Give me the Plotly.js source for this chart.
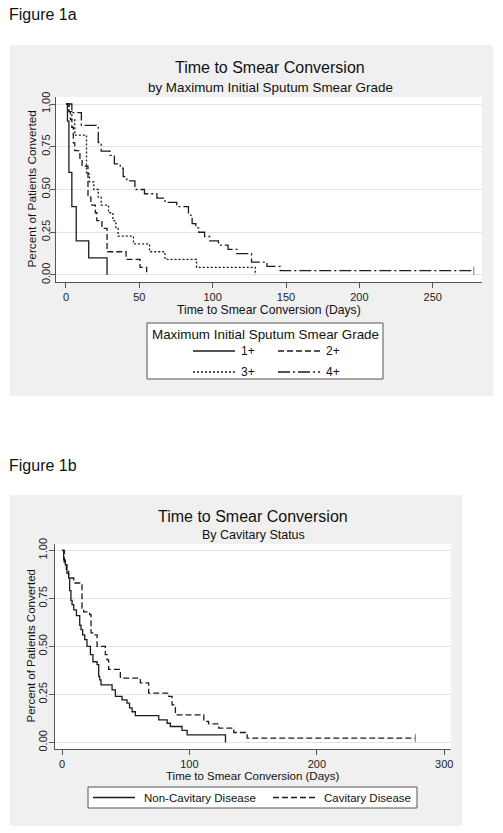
<!DOCTYPE html>
<html>
<head>
<meta charset="utf-8">
<script src="https://cdn.plot.ly/plotly-3.0.1.min.js"></script>
<style>html,body{margin:0;padding:0;background:#fff;}#chart{width:503px;height:833px;}</style>
</head>
<body>
<div id="chart"></div>
<script>
// ---------- Figure 1a: KM curves by max initial sputum smear grade ----------
const g1Days = [0, 1, 2, 4, 7, 15.5, 28];
const g1Surv = [1, 0.9, 0.6, 0.4, 0.2, 0.1, 0];

const g2Days = [0, 2, 3, 4, 5, 6, 9.5, 11, 15, 17, 20, 21, 24.5, 28, 41, 50.5, 55];
const g2Surv = [1, 0.955, 0.909, 0.864, 0.773, 0.727, 0.682, 0.636, 0.455, 0.409, 0.364, 0.318, 0.273, 0.136, 0.091, 0.045, 0];

const g3Days = [0, 2, 4, 6, 14, 16, 19, 22, 24, 29, 32, 34, 35.5, 46, 57, 67.5, 89, 129];
const g3Surv = [1, 0.955, 0.909, 0.818, 0.591, 0.545, 0.5, 0.455, 0.409, 0.364, 0.318, 0.273, 0.227, 0.182, 0.136, 0.091, 0.045, 0];

const g4Days = [0, 4, 10.5, 22, 24, 30, 33, 37, 39, 41.5, 47, 53.5, 62, 67.5, 75.5, 83.5, 86, 88.5, 90.5, 94.5, 98, 104, 110.5, 116.5, 126.5, 137, 146, 278];
const g4Surv = [1, 0.95, 0.875, 0.775, 0.725, 0.7, 0.65, 0.625, 0.575, 0.55, 0.5, 0.475, 0.45, 0.425, 0.4, 0.35, 0.3, 0.275, 0.25, 0.225, 0.2, 0.175, 0.15, 0.125, 0.075, 0.05, 0.025, 0.025];

const gradeNames = ['1+', '2+', '3+', '4+'];
const xTicksA = [0, 50, 100, 150, 200, 250];

// ---------- Figure 1b: KM curves by cavitary status ----------
const ncDays = [0, 1.3, 2.6, 3.9, 5.2, 6, 7, 7.9, 9.2, 11.3, 13.9, 14.9, 16.2, 17.8, 19.6, 22.3, 24.3, 27.5, 28.8, 29.6, 30.6, 39.3, 41.9, 47.1, 51, 53, 55, 57.6, 75.9, 82.5, 85, 94.2, 98.2, 128.3];
const ncSurv = [1, 0.95, 0.925, 0.88, 0.856, 0.79, 0.74, 0.717, 0.69, 0.66, 0.61, 0.587, 0.56, 0.535, 0.5, 0.457, 0.42, 0.405, 0.344, 0.326, 0.3, 0.274, 0.24, 0.222, 0.205, 0.18, 0.16, 0.14, 0.118, 0.1, 0.083, 0.0625, 0.04, 0];

const cavDays = [0, 1.8, 3.4, 5.2, 9.2, 15.7, 17, 21.7, 22.8, 24.9, 27.5, 34, 35.3, 36.6, 45.8, 61.5, 68, 83.8, 86.4, 89, 111.3, 115, 123, 134.8, 145.3, 277.3];
const cavSurv = [1, 0.93, 0.9, 0.856, 0.83, 0.7, 0.68, 0.665, 0.57, 0.56, 0.5, 0.457, 0.43, 0.38, 0.335, 0.31, 0.257, 0.24, 0.196, 0.144, 0.11, 0.097, 0.075, 0.052, 0.023, 0.023];

const cavNames = ['Non-Cavitary Disease', 'Cavitary Disease'];
const xTicksB = [0, 100, 200, 300];

const yTicks = [0, 0.25, 0.5, 0.75, 1];
const yTickText = ['0.00', '0.25', '0.50', '0.75', '1.00'];

// ---------- geometry helpers ----------
const W = 503, H = 833;
const px = x => x / W;
const py = y => 1 - y / H;
const FONT = 'Liberation Sans, Arial, sans-serif';
const INK = '#1c1c1c';
const LW = 1.3;

const dashes = ['solid', '6px,3px', '2px,2px', '12px,3px,2px,3px'];

function km(x, y, dash, xa, ya) {
  return {type: 'scatter', mode: 'lines', x: x, y: y, xaxis: xa, yaxis: ya,
    line: {shape: 'hv', color: INK, width: LW, dash: dash}, hoverinfo: 'skip', showlegend: false};
}
function censor(x, y, xa, ya) {
  return {type: 'scatter', mode: 'markers', x: [x[x.length - 1]], y: [y[y.length - 1]], xaxis: xa, yaxis: ya,
    marker: {symbol: 'line-ns-open', size: 6, line: {color: INK, width: 1}}, hoverinfo: 'skip', showlegend: false};
}

const data = [
  km(g1Days, g1Surv, dashes[0], 'x', 'y'),
  km(g2Days, g2Surv, dashes[1], 'x', 'y'),
  km(g3Days, g3Surv, dashes[2], 'x', 'y'),
  km(g4Days, g4Surv, dashes[3], 'x', 'y'),
  censor(g4Days, g4Surv, 'x', 'y'),
  km(ncDays, ncSurv, dashes[0], 'x2', 'y2'),
  km(cavDays, cavSurv, dashes[1], 'x2', 'y2'),
  censor(cavDays, cavSurv, 'x2', 'y2')
];

const axisCommon = {
  ticks: 'outside', ticklen: 5, tickwidth: 1, tickcolor: '#555',
  showline: true, linecolor: '#555', linewidth: 1, zeroline: false,
  tickfont: {family: FONT, size: 11, color: '#222'}, fixedrange: true
};

// plot areas (pixels)
const A = {l: 56, r: 482, t: 97, b: 282};
const B = {l: 55, r: 451, t: 544, b: 749};

const layout = {
  width: W, height: H,
  margin: {l: 0, r: 0, t: 0, b: 0},
  paper_bgcolor: '#ffffff', plot_bgcolor: 'rgba(0,0,0,0)',
  showlegend: false,
  font: {family: FONT, color: '#111'},
  xaxis: Object.assign({}, axisCommon, {domain: [px(A.l), px(A.r)], anchor: 'y', range: [-6.8, 283.6],
    tickvals: xTicksA, ticktext: xTicksA.map(String), showgrid: false}),
  yaxis: Object.assign({}, axisCommon, {domain: [py(A.b), py(A.t)], anchor: 'x', range: [-0.041, 1.041],
    tickvals: yTicks, ticktext: yTickText, tickangle: -90, ticklabelstandoff: -4,
    showgrid: true, gridcolor: '#e4e4e4', gridwidth: 1}),
  xaxis2: Object.assign({}, axisCommon, {domain: [px(B.l), px(B.r)], anchor: 'y2', range: [-5.5, 305.3],
    tickvals: xTicksB, ticktext: xTicksB.map(String), showgrid: false}),
  yaxis2: Object.assign({}, axisCommon, {domain: [py(B.b), py(B.t)], anchor: 'x2', range: [-0.034, 1.033],
    tickvals: yTicks, ticktext: yTickText, tickangle: -90, ticklabelstandoff: -2,
    showgrid: true, gridcolor: '#e4e4e4', gridwidth: 1}),
  shapes: [],
  annotations: []
};

function rect(x0, y0, x1, y1, fill, lineColor) {
  layout.shapes.push({type: 'rect', xref: 'paper', yref: 'paper', layer: 'below',
    x0: px(x0), x1: px(x1), y0: py(y1), y1: py(y0), fillcolor: fill,
    line: {width: lineColor ? 1 : 0, color: lineColor || fill}});
}
function seg(x0, x1, y, dash) {
  layout.shapes.push({type: 'line', xref: 'paper', yref: 'paper', layer: 'above',
    x0: px(x0), x1: px(x1), y0: py(y), y1: py(y), line: {color: INK, width: LW, dash: dash}});
}
function txt(x, y, text, size, anchor, angle) {
  layout.annotations.push({xref: 'paper', yref: 'paper', x: px(x), y: py(y), text: text, showarrow: false,
    xanchor: anchor || 'center', yanchor: 'middle', textangle: angle || 0, borderpad: 0,
    font: {family: FONT, size: size, color: '#111'}});
}

// panel backgrounds
rect(10, 45, 493, 396, '#f0f0f0');
rect(A.l, A.t, A.r, A.b, '#ffffff');
rect(10, 495, 462, 826, '#f0f0f0');
rect(B.l, B.t, B.r, B.b, '#ffffff');

// Figure 1a texts
txt(8, 15, 'Figure 1a', 16, 'left');
txt(270, 68, 'Time to Smear Conversion', 16);
txt(270, 87.5, 'by Maximum Initial Sputum Smear Grade', 13.4);
txt(269, 310, 'Time to Smear Conversion (Days)', 12.2);
txt(31, (A.t + A.b) / 2, 'Percent of Patients Converted', 11.8, 'center', -90);

// legend 1a
layout.shapes.push({type: 'rect', xref: 'paper', yref: 'paper', layer: 'above',
  x0: px(147), x1: px(383), y0: py(379), y1: py(323), fillcolor: '#ffffff', line: {color: '#555', width: 1}});
txt(265, 334, 'Maximum Initial Sputum Smear Grade', 13.4);
const legRows = [351, 351, 372, 372];
const legX = [193, 278, 193, 278];
gradeNames.forEach((n, i) => {
  seg(legX[i], legX[i] + 42, legRows[i], dashes[i]);
  txt(legX[i] + 47, legRows[i], n, 12, 'left');
});

// Figure 1b texts
txt(8, 465, 'Figure 1b', 16, 'left');
txt(253, 516.7, 'Time to Smear Conversion', 16);
txt(253, 535, 'By Cavitary Status', 12.5);
txt(253, 775.5, 'Time to Smear Conversion (Days)', 11.5);
txt(30, (B.t + B.b) / 2, 'Percent of Patients Converted', 11.5, 'center', -90);

// legend 1b
layout.shapes.push({type: 'rect', xref: 'paper', yref: 'paper', layer: 'above',
  x0: px(88), x1: px(417), y0: py(808), y1: py(787), fillcolor: '#ffffff', line: {color: '#555', width: 1}});
const legBX = [93, 273];
cavNames.forEach((n, i) => {
  seg(legBX[i], legBX[i] + 42, 797.5, dashes[i]);
  txt(legBX[i] + 50, 797.5, n, 11.5, 'left');
});

Plotly.newPlot('chart', data, layout, {staticPlot: true, displayModeBar: false});
</script>
</body>
</html>
